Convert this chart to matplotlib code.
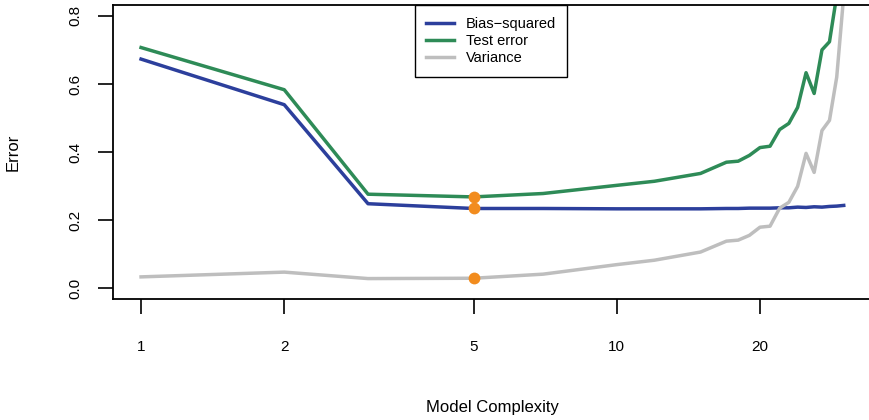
import matplotlib
matplotlib.use('Agg')
import matplotlib.pyplot as plt
from matplotlib.ticker import FixedLocator, NullLocator

plt.rcParams['font.family'] = ['Liberation Sans', 'DejaVu Sans']

# model complexity values where the curves have kinks
complexity = [1, 2, 3, 5, 7, 10, 12, 15, 17, 18, 19, 20, 21, 22, 23, 24, 25, 26, 27, 28, 29, 30]
bias_sq = [0.673, 0.539, 0.248, 0.234, 0.234, 0.233, 0.233, 0.233, 0.234, 0.234, 0.235,
           0.235, 0.235, 0.236, 0.236, 0.238, 0.237, 0.239, 0.238, 0.240, 0.241, 0.243]
test_err = [0.707, 0.583, 0.276, 0.268, 0.278, 0.302, 0.314, 0.337, 0.370, 0.373, 0.390,
            0.413, 0.417, 0.466, 0.484, 0.531, 0.633, 0.572, 0.700, 0.724, 0.860, 1.100]
variance = [0.033, 0.047, 0.028, 0.029, 0.041, 0.069, 0.082, 0.106, 0.138, 0.141, 0.155,
            0.179, 0.182, 0.235, 0.252, 0.299, 0.396, 0.340, 0.463, 0.493, 0.620, 0.860]

best_x = 5
best_vals = [test_err[3], bias_sq[3], variance[3]]

x_ticks = [1, 2, 5, 10, 20]
y_ticks = [0.0, 0.2, 0.4, 0.6, 0.8]

blue = '#2c3f9c'
green = '#2e8b57'
grey = '#bebebe'
orange = '#f28c1e'

fig = plt.figure(figsize=(8.69, 4.20), dpi=100)
ax = fig.add_axes([113 / 869, 1 - 299 / 420, 759 / 869, 294 / 420])

ax.plot(complexity, bias_sq, color=blue, lw=2.5, label='Bias\u2212squared')
ax.plot(complexity, test_err, color=green, lw=2.5, label='Test error')
ax.plot(complexity, variance, color=grey, lw=2.5, label='Variance')
ax.plot([best_x] * 3, best_vals, 'o', color=orange, ms=8.5, mec='none', zorder=5)

ax.set_xscale('log')
ax.set_xlim(0.873, 34.4)
ax.set_ylim(-0.032, 0.832)

ax.xaxis.set_major_locator(FixedLocator(x_ticks))
ax.xaxis.set_minor_locator(NullLocator())
ax.set_xticklabels([str(t) for t in x_ticks])
ax.set_yticks(y_ticks)
ax.set_yticklabels([f'{t:.1f}' for t in y_ticks])
plt.setp(ax.get_yticklabels(), rotation=90, va='center')

ax.tick_params(axis='both', direction='out', length=10.8, width=1.2,
               labelsize=11, colors='black')
ax.tick_params(axis='x', pad=19)
ax.tick_params(axis='y', pad=11)
for sp in ax.spines.values():
    sp.set_linewidth(1.3)
    sp.set_color('black')

ax.set_xlabel('Model Complexity', fontsize=12)
ax.set_ylabel('Error', fontsize=12)
ax.xaxis.set_label_coords(0.5, -0.343)
ax.yaxis.set_label_coords(-0.122, 0.5)

leg = ax.legend(loc='upper center', bbox_to_anchor=(0.498, 1.0), borderaxespad=0,
                fontsize=10.5, handlelength=1.9, handletextpad=0.8, borderpad=0.8,
                labelspacing=0.22, fancybox=False, framealpha=1, edgecolor='black')
leg.get_frame().set_linewidth(1.0)

fig.savefig('out.png', dpi=100)
